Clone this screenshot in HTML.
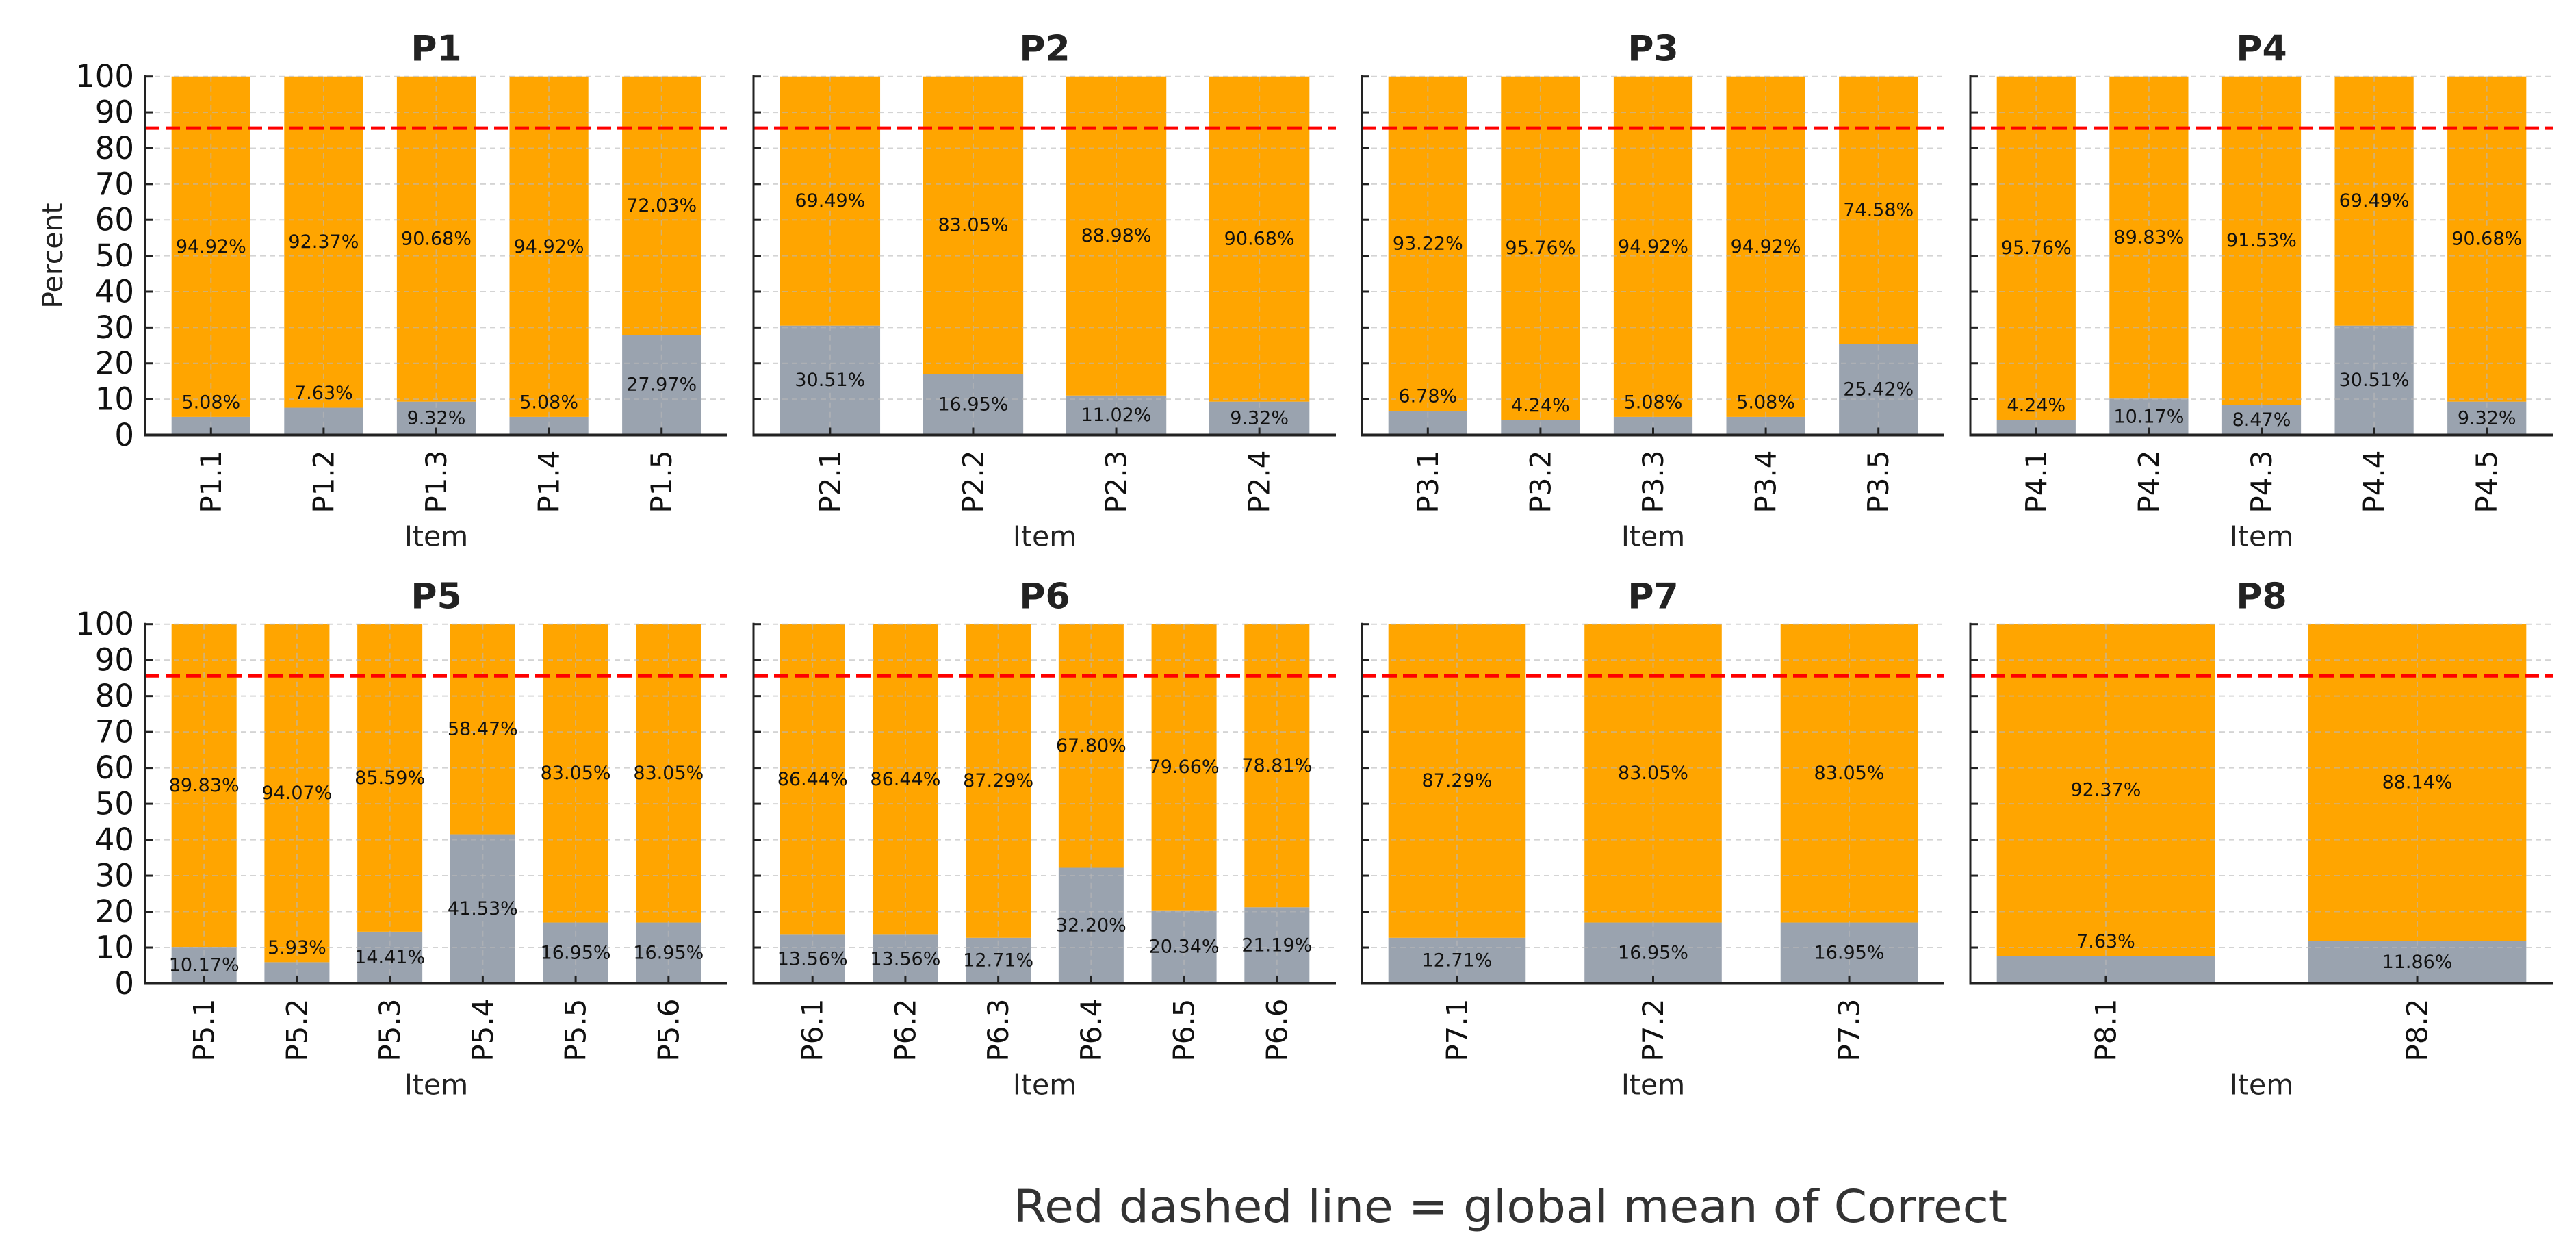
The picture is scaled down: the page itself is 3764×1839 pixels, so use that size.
<!DOCTYPE html>
<html>
<head>
<meta charset="utf-8">
<style>
  html,body{margin:0;padding:0;background:#fff;}
  svg{display:block;}
  text{font-family:"DejaVu Sans","Liberation Sans",sans-serif;}
</style>
</head>
<body>
<svg id="chart" width="3764" height="1839" viewBox="0 0 3764 1839" xmlns="http://www.w3.org/2000/svg">
  <rect x="0" y="0" width="3764" height="1839" fill="#ffffff"/>
  <g id="panels"></g>
  <text x="2207" y="1785" text-anchor="middle" font-size="66" fill="#333" textLength="1452" lengthAdjust="spacingAndGlyphs">Red dashed line = global mean of Correct</text>
</svg>
<script>
const panelTitles = ["P1","P2","P3","P4","P5","P6","P7","P8"];
const itemsP1 = ["P1.1","P1.2","P1.3","P1.4","P1.5"];
const itemsP2 = ["P2.1","P2.2","P2.3","P2.4"];
const itemsP3 = ["P3.1","P3.2","P3.3","P3.4","P3.5"];
const itemsP4 = ["P4.1","P4.2","P4.3","P4.4","P4.5"];
const itemsP5 = ["P5.1","P5.2","P5.3","P5.4","P5.5","P5.6"];
const itemsP6 = ["P6.1","P6.2","P6.3","P6.4","P6.5","P6.6"];
const itemsP7 = ["P7.1","P7.2","P7.3"];
const itemsP8 = ["P8.1","P8.2"];
const incorrectP1 = [5.08,7.63,9.32,5.08,27.97];
const correctP1 = [94.92,92.37,90.68,94.92,72.03];
const incorrectP2 = [30.51,16.95,11.02,9.32];
const correctP2 = [69.49,83.05,88.98,90.68];
const incorrectP3 = [6.78,4.24,5.08,5.08,25.42];
const correctP3 = [93.22,95.76,94.92,94.92,74.58];
const incorrectP4 = [4.24,10.17,8.47,30.51,9.32];
const correctP4 = [95.76,89.83,91.53,69.49,90.68];
const incorrectP5 = [10.17,5.93,14.41,41.53,16.95,16.95];
const correctP5 = [89.83,94.07,85.59,58.47,83.05,83.05];
const incorrectP6 = [13.56,13.56,12.71,32.20,20.34,21.19];
const correctP6 = [86.44,86.44,87.29,67.80,79.66,78.81];
const incorrectP7 = [12.71,16.95,16.95];
const correctP7 = [87.29,83.05,83.05];
const incorrectP8 = [7.63,11.86];
const correctP8 = [92.37,88.14];
const globalMeanCorrect = 85.6;
const yTicks = [0,10,20,30,40,50,60,70,80,90,100];

const allItems = [itemsP1,itemsP2,itemsP3,itemsP4,itemsP5,itemsP6,itemsP7,itemsP8];
const allIncorrect = [incorrectP1,incorrectP2,incorrectP3,incorrectP4,incorrectP5,incorrectP6,incorrectP7,incorrectP8];
const allCorrect = [correctP1,correctP2,correctP3,correctP4,correctP5,correctP6,correctP7,correctP8];

const NS = "http://www.w3.org/2000/svg";
const root = document.getElementById("panels");
const colLeft = [212,1101,1990,2879];
const axW = 851;
const rowTop = [111.7, 911.7];
const rowBottom = [635.5, 1436.5];
const BW = 0.7;

function mk(tag, attrs, parent){
  const e = document.createElementNS(NS, tag);
  for (const k in attrs) e.setAttribute(k, attrs[k]);
  parent.appendChild(e);
  return e;
}

for (let p = 0; p < 8; p++) {
  const row = Math.floor(p/4), col = p%4;
  const items = allItems[p], inc = allIncorrect[p], cor = allCorrect[p];
  const n = items.length;
  const L = colLeft[col], T = rowTop[row], B = rowBottom[row];
  const span = (n - 1 + BW);
  const xmin = -BW/2 - 0.05*span, xmax = n - 1 + BW/2 + 0.05*span;
  const xs = v => L + (v - xmin) / (xmax - xmin) * axW;
  const ys = v => B - v / 100 * (B - T);

  const g = mk("g", {}, root);
  
  

  // bars
  for (let i = 0; i < n; i++) {
    const x0 = xs(i - BW/2), x1 = xs(i + BW/2);
    const rg = mk("rect", {x:x0, y:ys(inc[i]), width:x1-x0, height:ys(0)-ys(inc[i]), fill:"#9aa3af"}, g);
    
    
    const ro = mk("rect", {x:x0, y:ys(inc[i]+cor[i]), width:x1-x0, height:ys(inc[i])-ys(inc[i]+cor[i]), fill:"#ffa500"}, g);
    
    
  }

  // grid
  for (const t of yTicks) {
    if (t === 0) continue;
    const gl = mk("line", {x1:L, x2:L+axW, y1:ys(t), y2:ys(t), stroke:"#b8b8b8", "stroke-width":2, "stroke-dasharray":"8 6", opacity:0.6}, g);
    
    
  }
  for (let i = 0; i < n; i++) {
    const gv = mk("line", {x1:xs(i), x2:xs(i), y1:T, y2:B, stroke:"#b8b8b8", "stroke-width":2, "stroke-dasharray":"8 6", opacity:0.6}, g);
    
    
  }

  // mean line
  const ml = mk("line", {x1:L, x2:L+axW, y1:ys(globalMeanCorrect), y2:ys(globalMeanCorrect), stroke:"#ff0000", "stroke-width":5, "stroke-dasharray":"21 9"}, g);
  
  

  // value labels
  for (let i = 0; i < n; i++) {
    const yi = inc[i] < 8 ? inc[i] + 4 : inc[i] / 2;
    const ti = mk("text", {x:xs(i), y:ys(yi), "text-anchor":"middle", "dominant-baseline":"central", "font-size":27, fill:"#111"}, g);
    ti.textContent = inc[i].toFixed(2) + "%";
    
    
    const tc = mk("text", {x:xs(i), y:ys(inc[i] + cor[i]/2), "text-anchor":"middle", "dominant-baseline":"central", "font-size":27, fill:"#111"}, g);
    tc.textContent = cor[i].toFixed(2) + "%";
    
    
  }

  // spines
  const sl = mk("line", {x1:L, x2:L, y1:T-2, y2:B, stroke:"#222", "stroke-width":3}, g);
  
  
  const sb = mk("line", {x1:L-1.5, x2:L+axW, y1:B, y2:B, stroke:"#222", "stroke-width":4}, g);
  
  

  // y ticks
  for (const t of yTicks) {
    const tk = mk("line", {x1:L, x2:L+11, y1:ys(t), y2:ys(t), stroke:"#222", "stroke-width":3}, g);
    
    
    if (col === 0) {
      const tl = mk("text", {x:L-16, y:ys(t), "text-anchor":"end", "dominant-baseline":"central", "font-size":45, fill:"#111"}, g);
      tl.textContent = String(t);
      
      
    }
  }
  // x ticks
  for (let i = 0; i < n; i++) {
    const tk = mk("line", {x1:xs(i), x2:xs(i), y1:B, y2:B-11, stroke:"#222", "stroke-width":3}, g);
    
    
    const cx = xs(i), ty = B + 22;
    const tl = mk("text", {x:cx, y:ty, "text-anchor":"end", "dominant-baseline":"central", "font-size":42, fill:"#111", transform:"rotate(-90 " + cx + " " + ty + ")"}, g);
    tl.textContent = items[i];
    
    
  }

  // title
  const tt = mk("text", {x:L+axW/2, y:T-23, "text-anchor":"middle", "font-size":52, "font-weight":"bold", fill:"#222"}, g);
  tt.textContent = panelTitles[p];
  
  

  // x axis title
  const xt = mk("text", {x:L+axW/2, y:B+162, "text-anchor":"middle", "font-size":41, fill:"#222"}, g);
  xt.textContent = "Item";
  
  

  if (p === 0) {
    const yt = mk("text", {x:77, y:(T+B)/2, "text-anchor":"middle", "dominant-baseline":"central", "font-size":41, fill:"#222", transform:"rotate(-90 77 " + ((T+B)/2) + ")"}, g);
    yt.textContent = "Percent";
    
    
  }
}
</script>
</body>
</html>
